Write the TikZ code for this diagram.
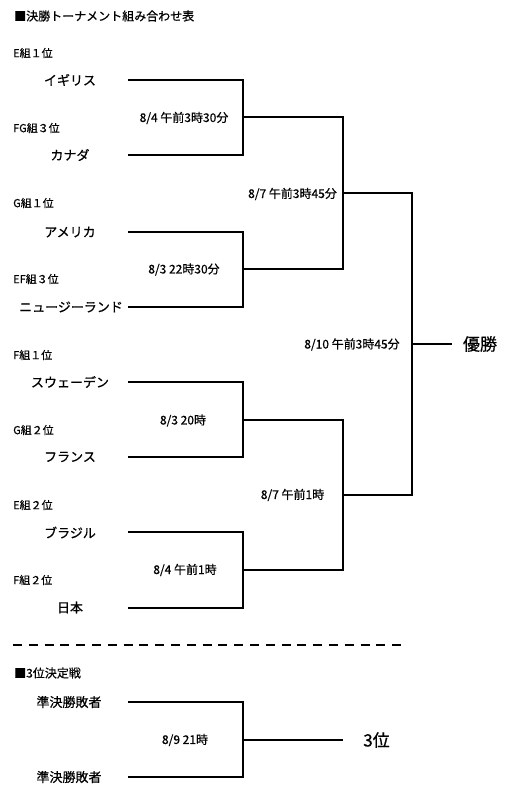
\documentclass[tikz,border=0pt]{standalone}
\usepackage{fontspec}
\setmainfont{Noto Sans CJK JP}[BoldFont={Noto Sans CJK JP},BoldFeatures={FakeBold=0.6}]
\begin{document}
\begin{tikzpicture}[x=1pt,y=-1pt,
  bracket/.style={line width=2pt,line join=miter},
  sep/.style={line width=2pt,dash pattern=on 9pt off 6.8pt},
  team/.style={font=\fontsize{13}{13}\selectfont\bfseries,inner sep=0pt},
  grp/.style={font=\fontsize{11}{11}\selectfont\bfseries,inner sep=0pt,anchor=west},
  head/.style={font=\fontsize{12}{12}\selectfont\bfseries,inner sep=0pt,anchor=west},
  date/.style={font=\fontsize{12}{12}\selectfont\bfseries,inner sep=0pt},
  big/.style={font=\fontsize{17}{17}\selectfont\bfseries,inner sep=0pt}]
\useasboundingbox (0,0) rectangle (510,812);
% headings
\node[head] (h1) at (14,16) {■決勝トーナメント組み合わせ表};
\node[head] (h2) at (14,673) {■3位決定戦};
% group labels
\node[grp] (g1) at (13,53) {E組１位};
\node[grp] (g2) at (13,128) {FG組３位};
\node[grp] (g3) at (13,203) {G組１位};
\node[grp] (g4) at (13,279) {EF組３位};
\node[grp] (g5) at (13,355) {F組１位};
\node[grp] (g6) at (13,430) {G組２位};
\node[grp] (g7) at (13,505) {E組２位};
\node[grp] (g8) at (13,580) {F組２位};
% teams
\node[team] (t1) at (70,80) {イギリス};
\node[team] (t2) at (70,155) {カナダ};
\node[team] (t3) at (70,232) {アメリカ};
\node[team] (t4) at (71,307) {ニュージーランド};
\node[team] (t5) at (70,382) {スウェーデン};
\node[team] (t6) at (70,457) {フランス};
\node[team] (t7) at (70,532.5) {ブラジル};
\node[team] (t8) at (70,607.5) {日本};
\node[team] (l1) at (69,702) {準決勝敗者};
\node[team] (l2) at (69,777) {準決勝敗者};
% line starts
\coordinate (s1) at (128,80);
\coordinate (s2) at (128,155);
\coordinate (s3) at (128,232);
\coordinate (s4) at (128,307);
\coordinate (s5) at (128,382);
\coordinate (s6) at (128,457);
\coordinate (s7) at (128,532);
\coordinate (s8) at (128,608);
\coordinate (s9) at (128,702);
\coordinate (s10) at (128,777);
% junctions
\coordinate (q1) at (243,117);
\coordinate (q2) at (243,269);
\coordinate (q3) at (243,420);
\coordinate (q4) at (243,570);
\coordinate (r1) at (343,193);
\coordinate (r2) at (343,495);
\coordinate (f) at (412,344);
\coordinate (w) at (452,344);
\coordinate (q5) at (243,740);
\coordinate (w3) at (343,740);
% brackets
\draw[bracket] (s1) -| (q1) |- (s2);
\draw[bracket] (s3) -| (q2) |- (s4);
\draw[bracket] (s5) -| (q3) |- (s6);
\draw[bracket] (s7) -| (q4) |- (s8);
\draw[bracket] (q1) -| (r1) |- (q2);
\draw[bracket] (q3) -| (r2) |- (q4);
\draw[bracket] (r1) -| (f) |- (r2);
\draw[bracket] (f) -- (w);
\draw[bracket] (s9) -| (q5) |- (s10);
\draw[bracket] (q5) -- (w3);
% dates
\node[date] (d1) at (184,118) {8/4 午前3時30分};
\node[date] (d2) at (184,269.5) {8/3 22時30分};
\node[date] (d3) at (183,420.5) {8/3 20時};
\node[date] (d4) at (185,570) {8/4 午前1時};
\node[date] (d5) at (292.5,194) {8/7 午前3時45分};
\node[date] (d6) at (292.5,495) {8/7 午前1時};
\node[date] (d7) at (352,344.5) {8/10 午前3時45分};
\node[date] (d8) at (185,740) {8/9 21時};
% results
\node[big] (win) at (480,344) {優勝};
\node[big] (third) at (376.5,740) {3位};
% separator
\coordinate (sepA) at (13,645);
\coordinate (sepB) at (406,645);
\draw[sep] (sepA) -- (sepB);
\end{tikzpicture}
\end{document}
